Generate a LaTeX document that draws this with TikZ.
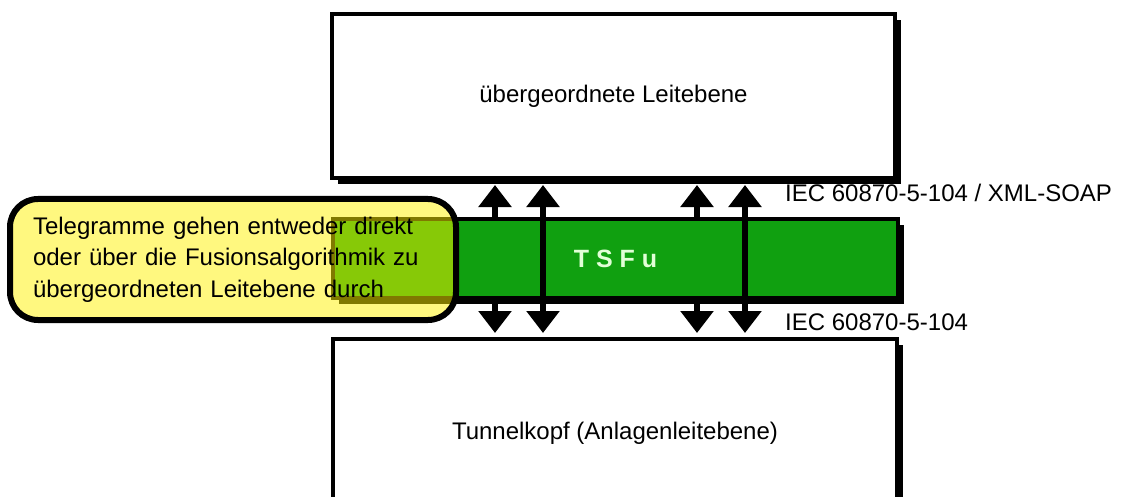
\documentclass[tikz,border=0pt]{standalone}
\usepackage{fontspec}
\setmainfont{Liberation Sans}
\usetikzlibrary{arrows.meta,shadows}
\definecolor{bandgreen}{RGB}{16,160,16}
\definecolor{tsfutext}{RGB}{225,255,215}
\begin{document}
\begin{tikzpicture}[x=1pt,y=-1pt,
  level/.style={draw=black, line width=4pt, fill=white, inner sep=0pt,
    minimum width=563pt, minimum height=164pt,
    font=\fontsize{24}{28}\selectfont,
    drop shadow={shadow xshift=6pt, shadow yshift=-6pt, opacity=1, fill=black}},
  band/.style={draw=black, line width=4pt, fill=bandgreen, inner sep=0pt,
    minimum width=565pt, minimum height=79pt, text=tsfutext,
    font=\fontsize{25}{28}\selectfont\bfseries,
    drop shadow={shadow xshift=6pt, shadow yshift=-6pt, opacity=1, fill=black}},
  note/.style={draw=black, line width=6pt, rounded corners=28pt,
    fill=yellow, fill opacity=0.5, text opacity=1, draw opacity=1,
    minimum width=446pt, minimum height=121pt, inner xsep=23pt,
    text width=400pt, align=left, font=\fontsize{24}{31.5}\selectfont},
  proto/.style={anchor=west, inner sep=0pt, font=\fontsize{24}{28}\selectfont},
  link/.style={line width=6pt,
    {Triangle[length=22pt,width=32pt]}-{Triangle[length=22pt,width=32pt]}}
]
\useasboundingbox (0,0) rectangle (1129,497);
\clip (0,0) rectangle (1129,497);
\fill[white] (0,0) rectangle (1129,497);

% the two control levels
\node[level] (upper) at (613.5,96) {übergeordnete Leitebene};
\node[level, minimum width=564pt, minimum height=188pt] (lower) at (615,433) {Tunnelkopf (Anlagenleitebene)};

% end points of the four telegram paths
\coordinate (a1t) at (495,185); \coordinate (a1b) at (495,333);
\coordinate (a2t) at (543,185); \coordinate (a2b) at (543,333);
\coordinate (a3t) at (697,185); \coordinate (a3b) at (697,333);
\coordinate (a4t) at (745,185); \coordinate (a4b) at (745,333);

% paths through the fusion algorithm run behind the band
\draw[link] (a1t) -- (a1b);
\draw[link] (a3t) -- (a3b);

% fusion unit
\node[band] (tsfu) at (615.5,258.5) {T S F u};

% direct paths pass across the band
\draw[link] (a2t) -- (a2b);
\draw[link] (a4t) -- (a4b);

% protocol labels
\node[proto] (iecup) at (785,193) {IEC 60870-5-104 / XML-SOAP};
\node[proto] (ieclow) at (785,322) {IEC 60870-5-104};

% explanatory callout
\node[note] (callout) at (233,259.5) {Telegramme gehen entweder direkt\\oder über die Fusionsalgorithmik zu\\übergeordneten Leitebene durch};
\end{tikzpicture}
\end{document}
